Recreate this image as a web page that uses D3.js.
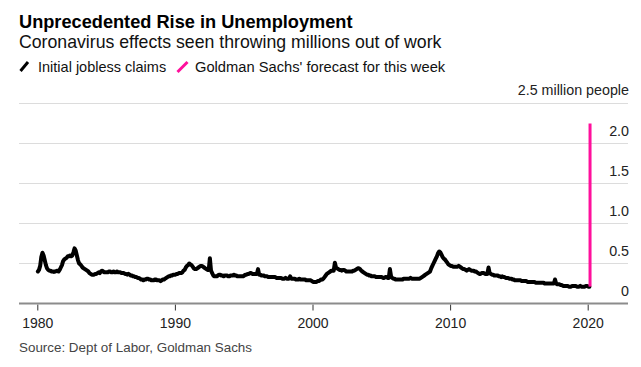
<!DOCTYPE html>
<html>
<head>
<meta charset="utf-8">
<script src="https://cdn.jsdelivr.net/npm/d3@7"></script>
<style>
  html, body { margin: 0; padding: 0; background: #fff; }
  svg { display: block; font-family: "Liberation Sans", Arial, Helvetica, sans-serif; }
</style>
</head>
<body>
<svg id="chart" width="641" height="367"></svg>
<script>
// ---------- DATA ----------
const title = "Unprecedented Rise in Unemployment";
const subtitle = "Coronavirus effects seen throwing millions out of work";
const legendLabels = ["Initial jobless claims", "Goldman Sachs' forecast for this week"];
const sourceText = "Source: Dept of Labor, Goldman Sachs";
const yUnitLabel = "2.5 million people";

// Monthly initial jobless claims (thousands), starting January 1980
const startYear = 1980;
const claims = [
  400, 420, 470, 580, 635, 600, 540, 480, 440, 420, 410, 410, // 1980
  400, 400, 395, 400, 405, 410, 400, 420, 450, 480, 530, 550, // 1981
  560, 570, 590, 590, 600, 590, 600, 640, 690, 660, 600, 540, // 1982
  500, 490, 470, 450, 440, 430, 420, 410, 400, 380, 370, 360, // 1983
  360, 360, 370, 370, 380, 390, 380, 400, 410, 400, 390, 390, // 1984
  390, 390, 400, 400, 390, 390, 400, 390, 390, 400, 390, 390, // 1985
  390, 380, 380, 380, 370, 370, 360, 370, 360, 350, 350, 340, // 1986
  340, 330, 330, 320, 320, 310, 300, 300, 290, 300, 300, 310, // 1987
  310, 300, 300, 290, 290, 290, 300, 300, 290, 290, 290, 280, // 1988
  290, 300, 300, 310, 320, 330, 340, 340, 350, 350, 360, 360, // 1989
  360, 370, 370, 380, 380, 380, 390, 410, 420, 450, 470, 480, // 1990
  500, 490, 480, 460, 440, 430, 430, 440, 450, 460, 470, 470, // 1991
  460, 450, 440, 430, 420, 420, 565, 410, 380, 350, 340, 340, // 1992
  340, 350, 360, 360, 350, 350, 340, 350, 350, 350, 340, 340, // 1993
  350, 350, 350, 360, 350, 350, 340, 340, 340, 340, 340, 340, // 1994
  350, 360, 360, 370, 370, 380, 380, 370, 370, 370, 370, 370, // 1995
  430, 360, 360, 350, 350, 350, 340, 340, 340, 330, 330, 330, // 1996
  330, 330, 330, 330, 320, 320, 320, 320, 320, 310, 310, 310, // 1997
  320, 310, 310, 310, 340, 310, 310, 310, 310, 300, 300, 300, // 1998
  310, 300, 300, 300, 300, 300, 290, 290, 290, 290, 290, 280, // 1999
  270, 270, 270, 270, 280, 280, 290, 300, 300, 310, 330, 350, // 2000
  370, 380, 390, 400, 410, 410, 410, 510, 450, 440, 430, 420, // 2001
  420, 410, 420, 420, 410, 400, 400, 400, 400, 400, 400, 410, // 2002
  410, 420, 430, 440, 440, 430, 410, 400, 390, 380, 370, 360, // 2003
  360, 350, 350, 340, 340, 340, 340, 330, 330, 330, 330, 330, // 2004
  330, 320, 320, 330, 330, 320, 320, 430, 340, 320, 310, 310, // 2005
  300, 300, 300, 300, 300, 300, 300, 310, 310, 310, 310, 310, // 2006
  310, 320, 310, 310, 310, 310, 310, 310, 310, 310, 320, 330, // 2007
  340, 350, 360, 370, 380, 390, 400, 440, 470, 500, 530, 560, // 2008
  590, 630, 650, 640, 610, 580, 560, 550, 530, 510, 490, 480, // 2009
  470, 470, 460, 460, 460, 460, 460, 470, 460, 450, 440, 430, // 2010
  430, 420, 410, 420, 430, 420, 410, 410, 410, 400, 400, 390, // 2011
  380, 370, 370, 380, 380, 380, 370, 370, 370, 450, 380, 370, // 2012
  360, 360, 350, 350, 350, 350, 340, 340, 330, 340, 330, 330, // 2013
  320, 320, 320, 310, 310, 310, 300, 300, 290, 290, 290, 290, // 2014
  290, 290, 280, 280, 280, 280, 280, 270, 270, 270, 270, 270, // 2015
  270, 270, 260, 260, 260, 260, 260, 260, 260, 260, 250, 250, // 2016
  250, 250, 250, 250, 250, 250, 250, 300, 250, 240, 240, 240, // 2017
  230, 230, 220, 220, 220, 220, 220, 210, 210, 210, 220, 220, // 2018
  220, 220, 210, 210, 210, 220, 210, 210, 210, 210, 220, 220, // 2019
  210, 210                                                      // 2020
];

// Goldman Sachs forecast for the week (thousands)
const forecastYears = [2020.17, 2020.17];
const forecastValues = [211, 2250];

const xTicks = [1980, 1990, 2000, 2010, 2020];
const yTicks = [0, 500, 1000, 1500, 2000];
const yTickLabels = ["0", "0.5", "1.0", "1.5", "2.0"];

// ---------- CHART ----------
const svg = d3.select("#chart");
const black = "#000";
const pink = "#ff0f9c";

const x = d3.scaleLinear().domain([1980, 2020]).range([37.3, 587.7]);
const y = d3.scaleLinear().domain([0, 2500]).range([303.5, 103.5]);
const plotLeft = 19, plotRight = 628;

// Titles
svg.append("text").attr("x", 19).attr("y", 28)
  .attr("font-size", 18.2).attr("font-weight", "bold").attr("fill", "#000").text(title);
svg.append("text").attr("x", 19).attr("y", 48)
  .attr("font-size", 17.7).attr("fill", "#111").text(subtitle);

// Legend
const leg = svg.append("g");
leg.append("line").attr("x1", 20.5).attr("y1", 71).attr("x2", 28).attr("y2", 62)
  .attr("stroke", black).attr("stroke-width", 3);
leg.append("text").attr("x", 38).attr("y", 71.5).attr("font-size", 14.5).attr("fill", "#111").text(legendLabels[0]);
leg.append("line").attr("x1", 177.5).attr("y1", 72).attr("x2", 187.5).attr("y2", 62)
  .attr("stroke", pink).attr("stroke-width", 3);
leg.append("text").attr("x", 195).attr("y", 71.5).attr("font-size", 14.7).attr("fill", "#111").text(legendLabels[1]);

// Gridlines
const grid = svg.append("g");
grid.selectAll("line").data([500, 1000, 1500, 2000, 2500]).join("line")
  .attr("x1", plotLeft).attr("x2", plotRight)
  .attr("y1", d => y(d)).attr("y2", d => y(d))
  .attr("stroke", "#dcdcdc").attr("stroke-width", 1);

// Y labels (right-aligned, above gridlines)
svg.append("g").selectAll("text").data(yTicks).join("text")
  .attr("x", 629).attr("y", d => y(d) - 8)
  .attr("text-anchor", "end").attr("font-size", 14.3).attr("fill", "#222")
  .text((d, i) => yTickLabels[i]);
svg.append("text").attr("x", 629).attr("y", y(2500) - 8.5)
  .attr("text-anchor", "end").attr("font-size", 14.3).attr("fill", "#222").text(yUnitLabel);

// X axis
const xAxis = d3.axisBottom(x).tickValues(xTicks).tickFormat(d3.format("d")).tickSize(6).tickPadding(8);
const gx = svg.append("g").attr("transform", `translate(0,${y(0) + 1})`).call(xAxis);
gx.select(".domain").remove();
gx.selectAll(".tick line").attr("stroke", "#333");
gx.selectAll(".tick text").attr("font-size", 14).attr("fill", "#222")
  .attr("font-family", "'Liberation Sans', Arial, sans-serif");
svg.append("line").attr("x1", plotLeft).attr("x2", plotRight)
  .attr("y1", y(0)).attr("y2", y(0)).attr("stroke", "#8c8c8c").attr("stroke-width", 2);

// Claims line
const claimsData = claims.map((v, i) => ({ t: startYear + (i + 0.5) / 12, v }));
const line = d3.line().x(d => x(d.t)).y(d => y(d.v)).curve(d3.curveLinear);
svg.append("path").datum(claimsData)
  .attr("d", line).attr("fill", "none").attr("stroke", black)
  .attr("stroke-width", 4).attr("stroke-linejoin", "round").attr("stroke-linecap", "round");

// Forecast line
const forecastData = forecastYears.map((t, i) => ({ t, v: forecastValues[i] }));
svg.append("path").datum(forecastData)
  .attr("d", line).attr("fill", "none").attr("stroke", pink).attr("stroke-width", 3);

// Source
svg.append("text").attr("x", 19).attr("y", 352)
  .attr("font-size", 13.4).attr("fill", "#444").text(sourceText);
</script>
</body>
</html>
